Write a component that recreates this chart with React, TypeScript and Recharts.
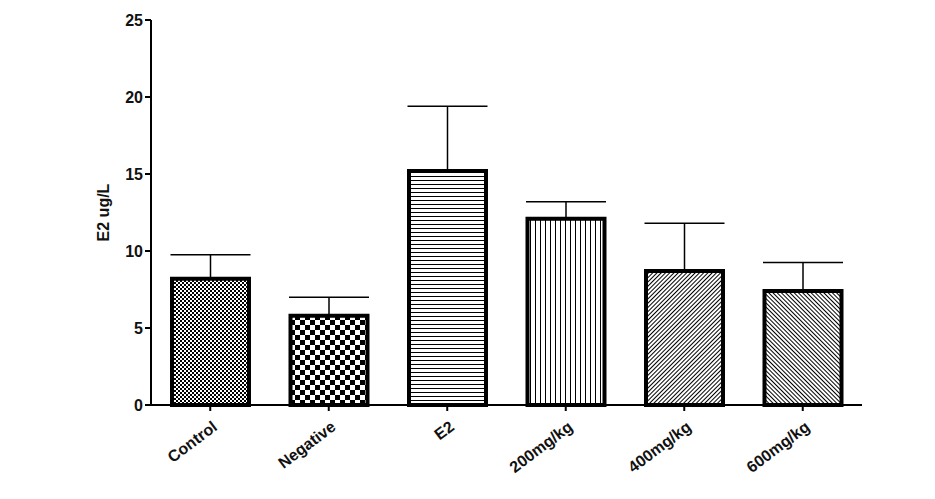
import React from 'react'
import { BarChart, Bar, XAxis, YAxis, Cell, ErrorBar } from 'recharts'

const categories = ['Control', 'Negative', 'E2', '200mg/kg', '400mg/kg', '600mg/kg']
const means = [8.2, 5.8, 15.2, 12.1, 8.7, 7.4]
const sem = [1.55, 1.2, 4.2, 1.1, 3.1, 1.85]
const yTicks = [0, 5, 10, 15, 20, 25]
const patternIds = ['checkFine', 'checkCoarse', 'hLines', 'vLines', 'diagUp', 'diagDown']

const data = categories.map((name, i) => ({
  name,
  mean: means[i],
  err: [0, sem[i]],
}))

const FONT = '"Liberation Sans", Arial, sans-serif'

function XTick(props: any) {
  const { x, y, payload } = props
  return (
    <g transform={`translate(${x + 8},${y + 16})`}>
      <text
        x={0}
        y={0}
        textAnchor="end"
        transform="rotate(-37)"
        fontFamily={FONT}
        fontWeight="bold"
        fontSize={16}
        fill="#111"
      >
        {payload.value}
      </text>
    </g>
  )
}

export default function App() {
  return (
    <div style={{ position: 'absolute', left: 0, top: 0, background: '#fff' }}>
      <BarChart
        width={935}
        height={499}
        data={data}
        margin={{ top: 20, right: 73, bottom: 14, left: 51 }}
      >
        <defs>
          <pattern id="checkFine" width={4} height={4} patternUnits="userSpaceOnUse">
            <rect width={4} height={4} fill="#fff" />
            <rect x={0} y={0} width={2} height={2} fill="#000" />
            <rect x={2} y={2} width={2} height={2} fill="#000" />
          </pattern>
          <pattern id="checkCoarse" width={10} height={10} patternUnits="userSpaceOnUse">
            <rect width={10} height={10} fill="#fff" />
            <rect x={0} y={0} width={5} height={5} fill="#000" />
            <rect x={5} y={5} width={5} height={5} fill="#000" />
          </pattern>
          <pattern id="hLines" width={4} height={4} patternUnits="userSpaceOnUse">
            <rect width={4} height={4} fill="#fff" />
            <line x1={0} y1={0.5} x2={4} y2={0.5} stroke="#000" strokeWidth={1} />
          </pattern>
          <pattern id="vLines" width={5} height={5} patternUnits="userSpaceOnUse">
            <rect width={5} height={5} fill="#fff" />
            <line x1={0.5} y1={0} x2={0.5} y2={5} stroke="#000" strokeWidth={1} />
          </pattern>
          <pattern
            id="diagUp"
            width={3}
            height={3}
            patternUnits="userSpaceOnUse"
            patternTransform="rotate(45)"
          >
            <rect width={3} height={3} fill="#fff" />
            <line x1={0.5} y1={0} x2={0.5} y2={3} stroke="#000" strokeWidth={1} />
          </pattern>
          <pattern
            id="diagDown"
            width={3}
            height={3}
            patternUnits="userSpaceOnUse"
            patternTransform="rotate(-45)"
          >
            <rect width={3} height={3} fill="#fff" />
            <line x1={0.5} y1={0} x2={0.5} y2={3} stroke="#000" strokeWidth={1} />
          </pattern>
        </defs>
        <XAxis
          dataKey="name"
          interval={0}
          height={80}
          axisLine={{ stroke: '#000', strokeWidth: 2 }}
          tickLine={{ stroke: '#000', strokeWidth: 2 }}
          tickSize={6}
          tick={<XTick />}
        />
        <YAxis
          width={100}
          domain={[0, 25]}
          ticks={yTicks}
          interval={0}
          axisLine={{ stroke: '#000', strokeWidth: 2 }}
          tickLine={{ stroke: '#000', strokeWidth: 2 }}
          tickSize={6}
          tick={{ fill: '#111', fontFamily: FONT, fontWeight: 'bold', fontSize: 16 }}
          label={{
            value: 'E2 ug/L',
            angle: -90,
            position: 'center',
            dx: 2,
            style: { fill: '#111', fontFamily: FONT, fontWeight: 'bold', fontSize: 16 },
          }}
        />
        <Bar dataKey="mean" barSize={77} stroke="#000" strokeWidth={4} isAnimationActive={false}>
          {data.map((d, i) => (
            <Cell key={d.name} fill={`url(#${patternIds[i]})`} />
          ))}
          <ErrorBar
            dataKey="err"
            width={40}
            stroke="#000"
            strokeWidth={1.5}
            direction="y"
            isAnimationActive={false}
          />
        </Bar>
      </BarChart>
    </div>
  )
}
